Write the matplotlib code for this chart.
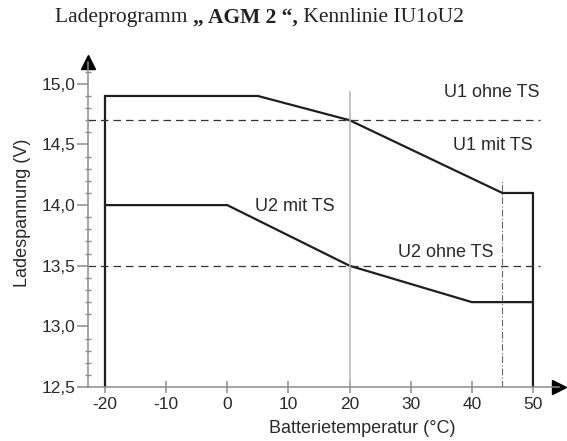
import matplotlib.pyplot as plt
from matplotlib.ticker import MultipleLocator, FuncFormatter

# U1 mit TS (upper curve) and U2 mit TS (lower curve)
u1_temp = [-20, -20, 5, 20, 45, 50, 50]
u1_volt = [12.5, 14.9, 14.9, 14.7, 14.1, 14.1, 12.5]
u2_temp = [-20, 0, 20, 40, 50]
u2_volt = [14.0, 14.0, 13.5, 13.2, 13.2]

u1_ohne_ts = 14.7
u2_ohne_ts = 13.5
ref_temp = 20
limit_temp = 45

x_ticks = [-20, -10, 0, 10, 20, 30, 40, 50]
y_ticks = [12.5, 13.0, 13.5, 14.0, 14.5, 15.0]

plt.rcParams["font.family"] = ["Liberation Sans", "DejaVu Sans"]
plt.rcParams["axes.unicode_minus"] = False

fig = plt.figure(figsize=(5.67, 4.41), dpi=100)
ax = fig.add_axes([0.1552, 0.1224, 0.8307, 0.737])

dark = "#1e1e1e"
grey = "#8c8c8c"
txt = "#2a2a2a"

ax.plot(u1_temp, u1_volt, color=dark, lw=1.6, solid_joinstyle="miter")
ax.plot(u2_temp, u2_volt, color=dark, lw=1.6, solid_joinstyle="miter")

ax.plot([-22.8, 51.2], [u1_ohne_ts] * 2, color="#333333", lw=0.9, dashes=(6, 4))
ax.plot([-22.8, 51.2], [u2_ohne_ts] * 2, color="#333333", lw=0.9, dashes=(6, 4))
ax.plot([ref_temp, ref_temp], [12.5, 14.93], color="#b4b4b4", lw=1.1)
ax.plot([limit_temp, limit_temp], [12.5, 14.21], color="#666666", lw=0.8,
        dashes=(6, 2, 1, 2))

ax.text(51.0, 14.93, "U1 ohne TS", ha="right", va="center", fontsize=13, color=txt)
ax.text(50.0, 14.49, "U1 mit TS", ha="right", va="center", fontsize=13, color=txt)
ax.text(4.5, 13.99, "U2 mit TS", ha="left", va="center", fontsize=13, color=txt)
ax.text(43.6, 13.61, "U2 ohne TS", ha="right", va="center", fontsize=13, color=txt)

ax.set_xlim(-22.78, 54.26)
ax.set_ylim(12.5, 15.18)
ax.set_xticks(x_ticks)
ax.set_yticks(y_ticks)
ax.yaxis.set_minor_locator(MultipleLocator(0.1))
ax.yaxis.set_major_formatter(FuncFormatter(lambda v, p: f"{v:.1f}".replace(".", ",")))

for s in ["top", "right"]:
    ax.spines[s].set_visible(False)
for s in ["left", "bottom"]:
    ax.spines[s].set_color(grey)
    ax.spines[s].set_linewidth(1.1)

ax.tick_params(axis="y", which="major", direction="out", length=8, width=1.1,
               color=grey, labelsize=12.5, labelcolor=txt, pad=1)
ax.tick_params(axis="y", which="minor", direction="inout", length=5, width=1.0,
               color=grey)
ax.tick_params(axis="x", which="major", direction="inout", length=8, width=1.1,
               color=grey, labelsize=12.5, labelcolor=txt, pad=3)

ax.plot(1, 0, ">", color="black", markersize=10, transform=ax.transAxes,
        clip_on=False)
ax.plot(0, 1, "^", color="black", markersize=10, transform=ax.transAxes,
        clip_on=False)

ax.set_xlabel("Batterietemperatur (°C)", fontsize=13, color=txt)
ax.xaxis.set_label_coords(0.582, -0.103)
ax.set_ylabel("Ladespannung (V)", fontsize=13, color=txt)
ax.yaxis.set_label_coords(-0.12, 0.535)

# title with mixed weights
parts = [("Ladeprogramm ", "normal"), ("\u201e AGM 2 \u201c,", "bold"), (" Kennlinie IU1oU2", "normal")]
texts = []
for s, w in parts:
    texts.append(fig.text(0, 0.96, s, fontsize=15.5, fontweight=w,
                          family="Liberation Serif", color="#222222", va="center", ha="left"))
fig.canvas.draw()
r = fig.canvas.get_renderer()
widths = [t.get_window_extent(r).width / fig.bbox.width for t in texts]
x0 = 0.457 - sum(widths) / 2
for t, w in zip(texts, widths):
    t.set_x(x0)
    x0 += w

fig.savefig("out.png", dpi=100)
